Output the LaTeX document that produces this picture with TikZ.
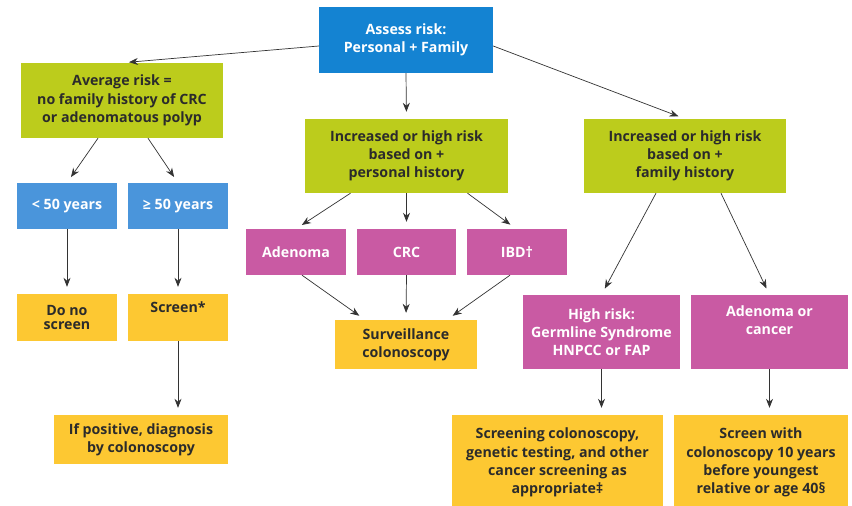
\documentclass[tikz,border=0pt]{standalone}
\usepackage{fontspec}
\setmainfont{Open Sans}
\usetikzlibrary{arrows.meta}
\definecolor{cblue}{HTML}{1483D2}
\definecolor{lblue}{HTML}{4A95DB}
\definecolor{cgreen}{HTML}{BCCC1C}
\definecolor{cpink}{HTML}{C95AA3}
\definecolor{cyel}{HTML}{FDC832}
\definecolor{ctext}{HTML}{2B2B2B}
\definecolor{carrow}{HTML}{333333}
\tikzset{
  box/.style={rectangle, inner sep=0pt, align=center, font=\fontsize{14.2}{18.3}\selectfont\bfseries},
  bluebox/.style={box, fill=cblue, text=white},
  lbluebox/.style={box, fill=lblue, text=white},
  greenbox/.style={box, fill=cgreen, text=ctext},
  pinkbox/.style={box, fill=cpink, text=white},
  yelbox/.style={box, fill=cyel, text=ctext},
  arr/.style={draw=carrow, line width=0.7pt, -{Stealth[length=9pt,width=7pt]}, shorten >=7pt},
}
\begin{document}
\begin{tikzpicture}[x=1pt,y=-1pt]
\clip (0,0) rectangle (852,506);
\fill[white] (0,0) rectangle (852,506);
\node[bluebox, minimum width=174pt, minimum height=66pt] (assess) at (406,40) {Assess risk:\\Personal + Family};
\node[greenbox, minimum width=202pt, minimum height=75pt] (avg) at (122,100.5) {Average risk =\\no family history of CRC\\or adenomatous polyp};
\node[lbluebox, minimum width=100pt, minimum height=46pt] (lt) at (67,206) {< 50 years};
\node[lbluebox, minimum width=100pt, minimum height=46pt] (ge) at (178,206) {≥ 50 years};
\node[greenbox, minimum width=203pt, minimum height=74pt] (pers) at (406.5,156) {Increased or high risk\\based on +\\personal history};
\node[greenbox, minimum width=202pt, minimum height=74pt] (fam) at (685,156) {Increased or high risk\\based on +\\family history};
\node[pinkbox, minimum width=100pt, minimum height=46pt] (aden) at (296,252) {Adenoma};
\node[pinkbox, minimum width=99pt, minimum height=46pt] (crc) at (406.5,252) {CRC};
\node[pinkbox, minimum width=100pt, minimum height=46pt] (ibd) at (517,252) {IBD†};
\node[yelbox, minimum width=142pt, minimum height=49pt] (surv) at (406,344.5) {Surveillance\\colonoscopy};
\node[yelbox, minimum width=100pt, minimum height=47pt] (donot) at (67,317.5) {Do no\\[-3.5pt]screen};
\node[yelbox, minimum width=100pt, minimum height=47pt] (screen) at (178,317.5) {Screen*\\[-3.5pt]\strut};
\node[yelbox, minimum width=174pt, minimum height=49pt] (ifpos) at (141,439.5) {If positive, diagnosis\\by colonoscopy};
\node[pinkbox, minimum width=157pt, minimum height=74pt] (high) at (601.5,332) {High risk:\\Germline Syndrome\\HNPCC or FAP};
\node[pinkbox, minimum width=157pt, minimum height=74pt] (adc) at (769.5,332) {Adenoma or\\cancer\\\strut};
\node[yelbox, minimum width=211pt, minimum height=95pt] (scrcol) at (557.5,462.5) {Screening colonoscopy,\\genetic testing, and other\\cancer screening as\\appropriate‡};
\node[yelbox, minimum width=174pt, minimum height=95pt] (scrwith) at (761,462.5) {Screen with\\colonoscopy 10 years\\before youngest\\relative or age 40§};
% connectors
\draw[arr] ([yshift=-6pt]assess.west) -- (avg.north);
\draw[arr] (assess.south) -- (pers.north);
\draw[arr] ([yshift=-6pt]assess.east) -- (fam.north);
\draw[arr] ([xshift=-24pt]avg.south) -- (lt.north);
\draw[arr] ([xshift=26pt]avg.south) -- (ge.north);
\draw[arr] (lt.south) -- (donot.north);
\draw[arr] (ge.south) -- (screen.north);
\draw[arr] (screen.south) -- (ifpos.north -| screen.south);
\draw[arr] ([xshift=-56pt]pers.south) -- (aden.north);
\draw[arr] (pers.south) -- (crc.north);
\draw[arr] ([xshift=61pt]pers.south) -- ([xshift=-1pt]ibd.north);
\draw[arr] ([xshift=6pt]aden.south) -- ([xshift=-41pt]surv.north);
\draw[arr] (crc.south) -- (surv.north);
\draw[arr] ([xshift=-7pt]ibd.south) -- ([xshift=41pt]surv.north);
\draw[arr] ([xshift=-29pt]fam.south) -- (high.north);
\draw[arr] ([xshift=36pt]fam.south) -- (adc.north);
\draw[arr] (high.south) -- (scrcol.north -| high.south);
\draw[arr] (adc.south) -- (scrwith.north -| adc.south);
\end{tikzpicture}
\end{document}
